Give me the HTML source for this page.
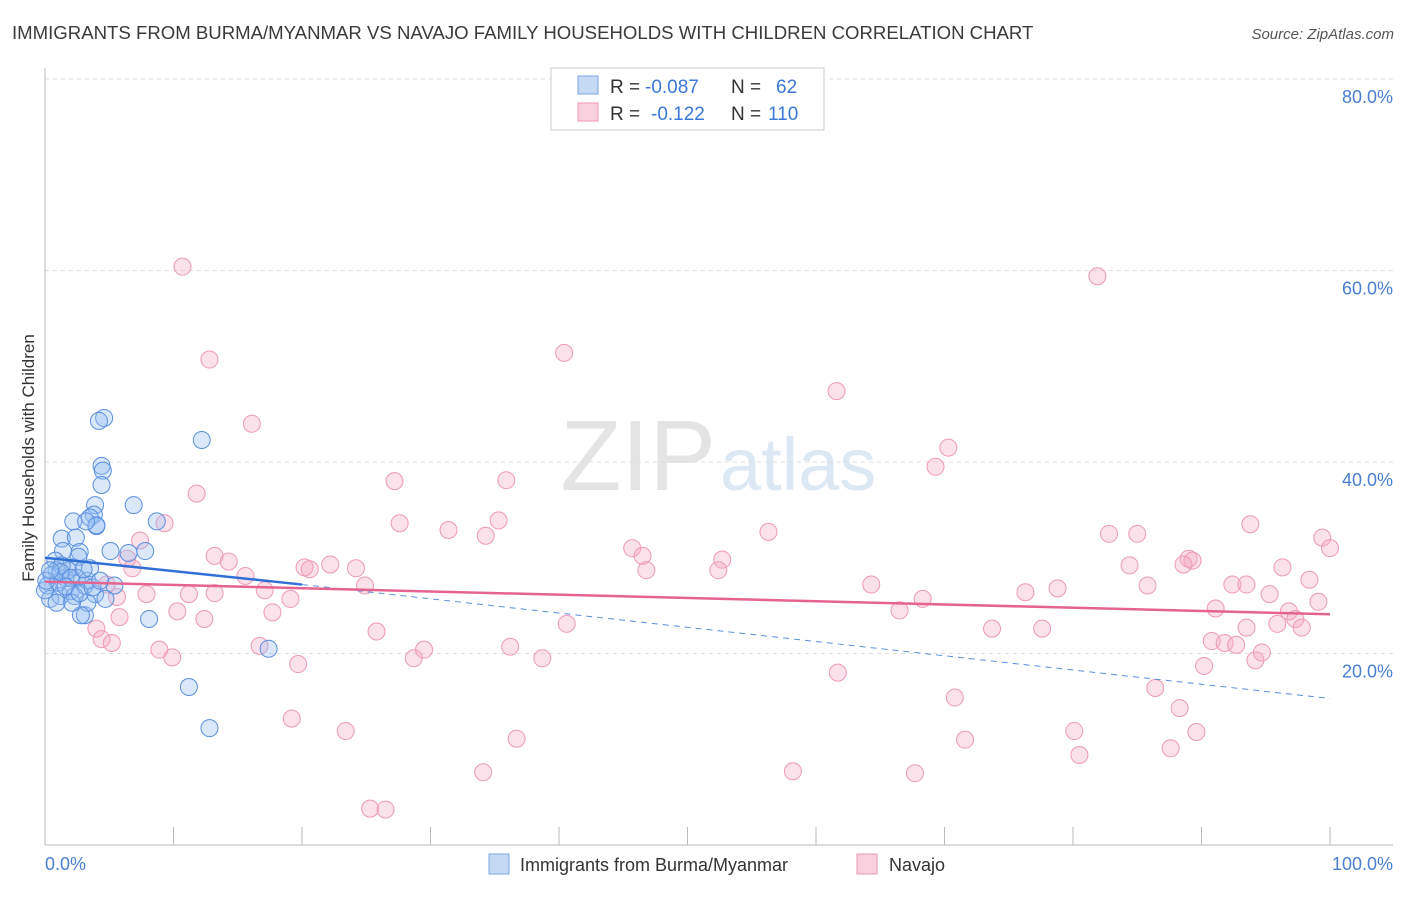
<!DOCTYPE html>
<html><head><meta charset="utf-8"><style>
body{margin:0;background:#fff;font-family:"Liberation Sans",sans-serif}
svg text{font-family:"Liberation Sans",sans-serif}
</style></head><body>
<svg id="chart" width="1406" height="892" xmlns="http://www.w3.org/2000/svg">
<text x="12" y="39" font-size="18.6" fill="#3a3a3a">IMMIGRANTS FROM BURMA/MYANMAR VS NAVAJO FAMILY HOUSEHOLDS WITH CHILDREN CORRELATION CHART</text>
<text x="1394" y="39" font-size="15" fill="#555" font-style="italic" text-anchor="end">Source: ZipAtlas.com</text>
<text x="716" y="490" font-size="100" fill="#e4e4e4" text-anchor="end" font-family="Liberation Serif">ZIP</text>
<text x="720" y="490" font-size="74" fill="#dde8f5">atlas</text>
<g id="grid"></g><g id="axes"></g><g id="pts"></g><g id="trend"></g>
<text transform="translate(34,458) rotate(-90)" font-size="17" fill="#333" text-anchor="middle">Family Households with Children</text>
<text x="45" y="870" font-size="18" fill="#4a7fd0">0.0%</text>
<text x="1393" y="870" font-size="18" fill="#4a7fd0" text-anchor="end">100.0%</text>
<g>
<rect x="551" y="68" width="273" height="62" fill="#fff" stroke="#ccc"/>
<rect x="578" y="76" width="20" height="18" fill="#c5d9f5" stroke="#7aa6e6"/>
<rect x="578" y="103" width="20" height="18" fill="#f8cfdc" stroke="#ee9ab4"/>
<text x="610" y="93" font-size="19" fill="#333">R =</text>
<text x="645" y="93" font-size="19" fill="#3b78d8">-0.087</text>
<text x="731" y="93" font-size="19" fill="#333">N =</text>
<text x="776" y="93" font-size="19" fill="#3b78d8">62</text>
<text x="610" y="120" font-size="19" fill="#333">R =</text>
<text x="651" y="120" font-size="19" fill="#3b78d8">-0.122</text>
<text x="731" y="120" font-size="19" fill="#333">N =</text>
<text x="768" y="120" font-size="19" fill="#3b78d8">110</text>
</g>
<g>
<rect x="489" y="854" width="20" height="20" fill="#c5d9f5" stroke="#7aa6e6"/>
<text x="520" y="871" font-size="18" fill="#333">Immigrants from Burma/Myanmar</text>
<rect x="857" y="854" width="20" height="20" fill="#f8cfdc" stroke="#ee9ab4"/>
<text x="889" y="871" font-size="18" fill="#333">Navajo</text>
</g>
</svg>
<script>
const yTicks=[20,40,60,80];
const yTickLabels=["20.0%","40.0%","60.0%","80.0%"];
const xTicks=[0,10,20,30,40,50,60,70,80,90,100];
const blueX=[4.6,4.2,4.4,4.5,4.4,3.9,3.8,3.5,4.0,4.0,2.2,3.2,6.9,8.7,12.2,7.8,6.5,5.1,1.3,2.4,1.4,2.7,0.8,0.9,0.2,0.4,1.2,2.0,3.1,3.9,4.7,5.4,3.1,3.3,8.1,2.8,11.2,12.8,17.4,2.2,1.6,2.5,1.8,0.5,1.0,2.3,3.3,1.3,3.5,0,1.2,2.0,2.6,3.0,0.1,0.4,1.6,2.1,2.7,0.9,3.7,4.3];
const blueY=[44.6,44.3,39.6,39.1,37.6,35.5,34.5,34.2,33.3,33.4,33.8,33.8,35.5,33.8,42.3,30.7,30.5,30.7,32.0,32.1,30.7,30.6,29.7,28.7,27.1,25.7,26.0,26.5,27.1,26.2,25.7,27.1,24.0,25.3,23.6,24.0,16.5,12.2,20.5,29.0,27.9,27.9,28.7,28.2,27.4,26.0,27.6,29.2,28.9,26.6,28.5,27.9,30.1,28.8,27.6,28.7,27.0,25.3,26.3,25.3,26.9,27.6];
const pinkX=[10.7,12.8,16.1,11.8,9.3,7.4,6.4,6.8,13.2,14.3,15.6,13.2,7.9,5.6,4.8,11.2,10.3,12.4,4.0,4.4,5.2,8.9,9.9,17.1,19.1,17.7,20.2,20.6,22.2,24.2,24.9,19.7,19.2,23.4,25.8,28.7,29.5,25.3,26.5,34.1,36.7,36.2,38.7,40.6,40.4,35.9,27.2,27.6,31.4,35.3,34.3,45.7,46.5,46.8,52.7,52.4,56.3,61.6,70.3,69.3,64.3,66.5,68.3,61.7,70.8,71.6,67.7,58.2,73.7,77.6,78.8,80.1,80.5,81.9,82.8,85.0,84.4,85.8,89.0,89.3,88.6,86.4,88.3,87.6,89.6,90.2,90.8,91.1,91.8,92.7,92.4,93.5,94.2,94.7,93.8,95.3,96.3,96.8,97.3,97.8,98.4,99.1,99.4,100,95.9,93.5,76.3,16.7,5.8];
const pinkY=[60.4,50.7,44.0,36.7,33.6,31.8,29.9,28.9,30.2,29.6,28.1,26.3,26.2,25.9,27.2,26.2,24.4,23.6,22.6,21.5,21.1,20.4,19.6,26.6,25.7,24.3,29.0,28.8,29.3,28.9,27.1,18.9,13.2,11.9,22.3,19.5,20.4,3.8,3.7,7.6,11.1,20.7,19.5,23.1,51.4,38.1,38.0,33.6,32.9,33.9,32.3,31.0,30.2,28.7,29.8,28.7,32.7,47.4,41.5,39.5,27.2,24.5,25.7,18.0,15.4,11.0,7.5,7.7,22.6,22.6,26.8,11.9,9.4,59.4,32.5,32.5,29.2,27.1,29.9,29.7,29.3,16.4,14.3,10.1,11.8,18.7,21.3,24.7,21.1,20.9,27.2,22.7,19.3,20.1,33.5,26.2,29.0,24.4,23.6,22.7,27.7,25.4,32.1,31.0,23.1,27.2,26.4,20.8,23.8]; 
const blueTrend=[[0,30.0],[20,27.2],[100,15.3]];
const pinkTrend=[[0,27.5],[100,24.1]];
const X=v=>45+v*12.85, Y=v=>845-v*9.575;
const NS="http://www.w3.org/2000/svg";
function mk(t,a,p){const e=document.createElementNS(NS,t);for(const k in a)e.setAttribute(k,a[k]);p.appendChild(e);return e;}
const grid=document.getElementById('grid'),axes=document.getElementById('axes'),pts=document.getElementById('pts'),tr=document.getElementById('trend');
yTicks.forEach((t,i)=>{const l=mk('line',{x1:45,x2:1393,y1:Y(t),y2:Y(t),stroke:'#ddd','stroke-dasharray':'4,4'},grid);


const tx=mk('text',{x:1393,y:Y(t)+24,'font-size':18,fill:'#4a7fd0','text-anchor':'end'},grid);tx.textContent=yTickLabels[i];

});
const ax=mk('line',{x1:45,x2:1393,y1:845,y2:845,stroke:'#bbb'},axes);


const ay=mk('line',{x1:45,x2:45,y1:68,y2:845,stroke:'#bbb'},axes);


xTicks.forEach(t=>{const l=mk('line',{x1:X(t),x2:X(t),y1:827,y2:845,stroke:'#bbb'},axes);

});
pinkX.forEach((x,i)=>{const c=mk('circle',{cx:X(x),cy:Y(pinkY[i]),r:8.5,fill:'rgba(244,170,195,0.35)',stroke:'#ee9ab4','stroke-width':1},pts);

});
blueX.forEach((x,i)=>{const c=mk('circle',{cx:X(x),cy:Y(blueY[i]),r:8.5,fill:'rgba(150,190,240,0.35)',stroke:'#5b8fe0','stroke-width':1},pts);

});
const b1=mk('line',{x1:X(blueTrend[0][0]),y1:Y(blueTrend[0][1]),x2:X(blueTrend[1][0]),y2:Y(blueTrend[1][1]),stroke:'#2f6fd6','stroke-width':2.5},tr);


const b2=mk('line',{x1:X(blueTrend[1][0]),y1:Y(blueTrend[1][1]),x2:X(blueTrend[2][0]),y2:Y(blueTrend[2][1]),stroke:'#5b8fe0','stroke-width':1,'stroke-dasharray':'6,5'},tr);


const p1=mk('line',{x1:X(pinkTrend[0][0]),y1:Y(pinkTrend[0][1]),x2:X(pinkTrend[1][0]),y2:Y(pinkTrend[1][1]),stroke:'#e4648f','stroke-width':2.5},tr);


</script>
</body></html>
